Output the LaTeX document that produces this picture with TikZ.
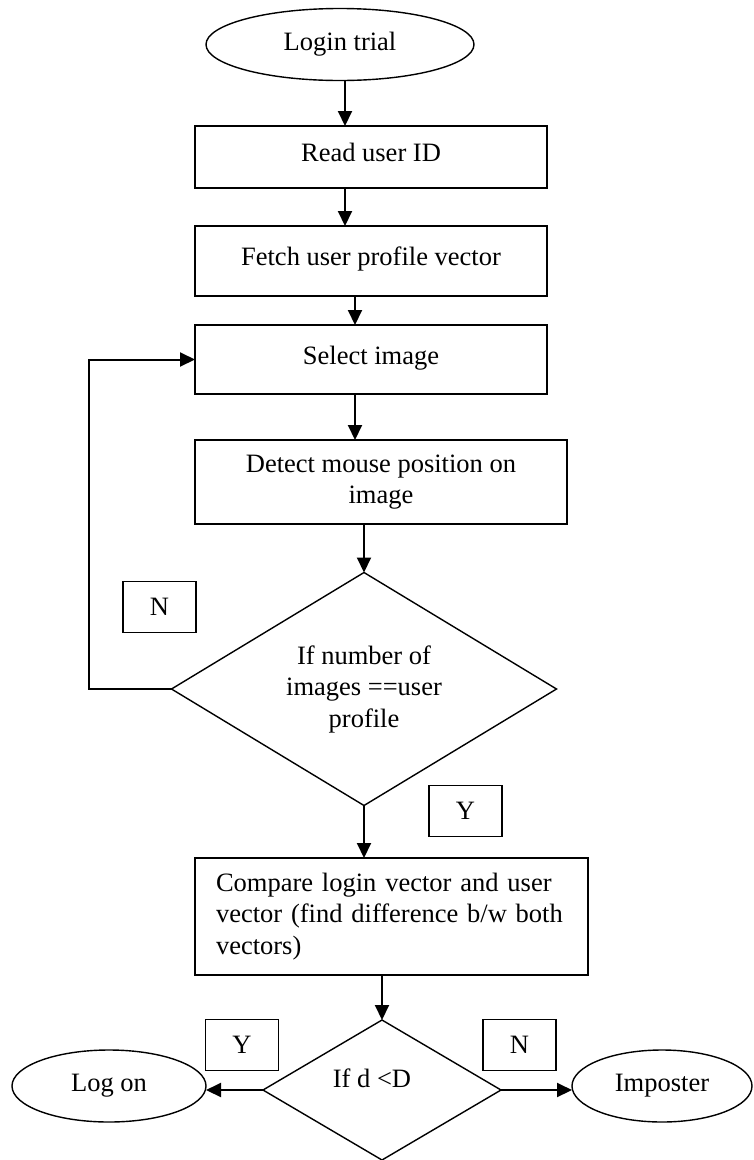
\documentclass[tikz,border=0pt]{standalone}
\usepackage{fontspec}
\setmainfont{Liberation Serif}
\usetikzlibrary{shapes.geometric,arrows.meta}
\tikzset{
  box/.style={draw,line width=1.4pt,minimum width=352pt,inner sep=0pt,outer sep=0pt},
  oneline/.style={text height=18pt,text depth=9pt},
  oval/.style={draw,ellipse,line width=1.4pt,minimum height=72pt,inner sep=0pt,outer sep=0pt},
  test/.style={draw,diamond,line width=1.4pt,inner sep=0pt,outer sep=0pt},
  tag/.style={draw,line width=1.4pt,minimum width=73pt,minimum height=51pt,inner sep=0pt},
  arr/.style={line width=2pt,-{Triangle[length=15pt,width=14pt]}}
}
\begin{document}
\begin{tikzpicture}[x=1pt,y=-1pt,font=\fontsize{26.5}{31.5}\selectfont]
  \useasboundingbox (0,0) rectangle (753,1160);
  \node[oval,minimum width=268pt] (login) at (340,44.5) {Login trial};
  \node[box,oneline,minimum height=62pt] (read) at (371,157) {Read user ID};
  \node[box,oneline,minimum height=70pt] (fetch) at (371,261) {Fetch user profile vector};
  \node[box,oneline,minimum height=69pt] (sel) at (371,359.5) {Select image};
  \node[box,minimum width=372pt,minimum height=84pt,align=center] (detect) at (381,482) {Detect mouse position on\\image};
  \node[test,aspect=1.65,minimum width=385pt,minimum height=233pt,align=center] (chk) at (364,689) {If number of\\images ==user\\profile};
  \node[tag] (n1) at (159.5,607) {N};
  \node[tag] (y1) at (465.5,811) {Y};
  \node[box,minimum width=393pt,minimum height=117pt,inner xsep=21pt,text width=351pt,align=left] (cmp) at (391.5,916.5) {Compare login vector and user\\vector (find difference b/w both\\vectors)};
  \node[test,minimum width=238pt,minimum height=140pt,label={[xshift=-10pt,yshift=12pt]center:If d <D}] (dec) at (382,1090) {};
  \node[tag] (y2) at (242,1045) {Y};
  \node[tag] (n2) at (519.5,1045) {N};
  \node[oval,minimum width=194pt] (logon) at (109,1086) {Log on};
  \node[oval,minimum width=180pt] (imp) at (662,1086) {Imposter};

  \draw[arr] ([xshift=5pt]login.south) -- ([xshift=5pt]login.south |- read.north);
  \draw[arr] ([xshift=-26pt]read.south) -- ([xshift=-26pt]fetch.north);
  \draw[arr] ([xshift=-16pt]fetch.south) -- ([xshift=-16pt]sel.north);
  \draw[arr] ([xshift=-16pt]sel.south) -- ([xshift=-16pt]sel.south |- detect.north);
  \draw[arr] (detect.south -| chk.north) -- (chk.north);
  \draw[arr] (chk.west) -- ++(-83,0) |- (sel.west);
  \draw[arr] (chk.south) -- (chk.south |- cmp.north);
  \draw[arr] (cmp.south -| dec.north) -- (dec.north);
  \draw[arr] (dec.west) -- (dec.west -| logon.east);
  \draw[arr] (dec.east) -- (dec.east -| imp.west);
\end{tikzpicture}
\end{document}
